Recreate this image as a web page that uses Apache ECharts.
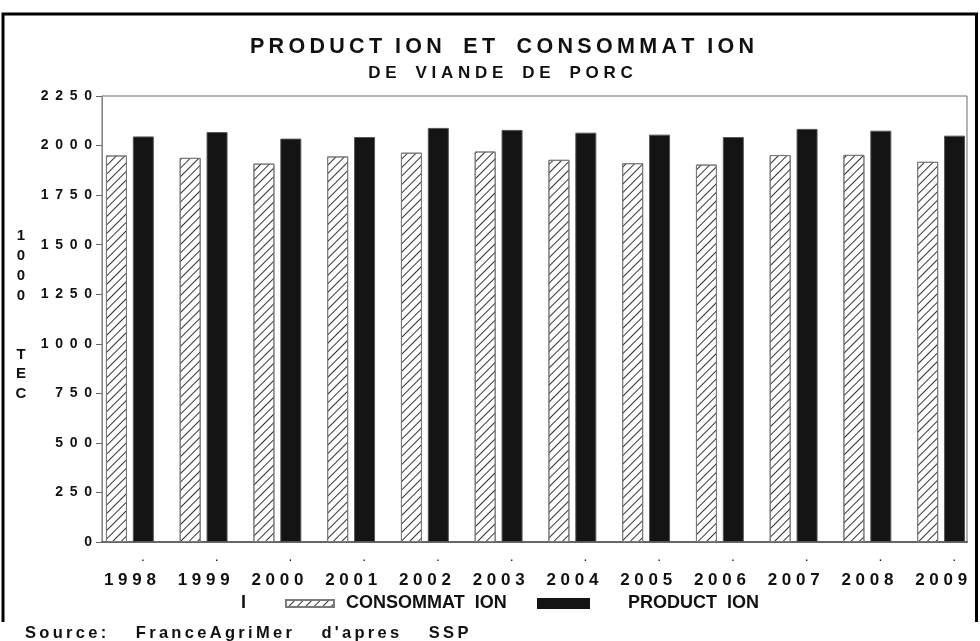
<!DOCTYPE html>
<html>
<head>
<meta charset="utf-8">
<script src="https://cdn.jsdelivr.net/npm/echarts@6/dist/echarts.min.js"></script>
<style>
html, body { margin: 0; padding: 0; background: #fff; }
#chart { width: 980px; height: 641px; }
</style>
</head>
<body>
<div id="chart"></div>
<script>
// valeurs en 1000 TEC
const years = ['1998', '1999', '2000', '2001', '2002', '2003', '2004', '2005', '2006', '2007', '2008', '2009'];
const consommation = [1950, 1938, 1909, 1945, 1964, 1970, 1928, 1911, 1904, 1952, 1953, 1918];
const production = [2046, 2068, 2035, 2043, 2089, 2079, 2065, 2055, 2043, 2084, 2075, 2050];
const yMin = 0, yMax = 2250, yStep = 250;
const yName = ['1', '0', '0', '0', '', '', 'T', 'E', 'C'];

const FONT = 'Liberation Sans, Arial, sans-serif';

// espacement des lettres comme sur l'original
function spread(text, gap, blank) {
    return text.split('').map(c => c === ' ' ? blank : c).join(gap);
}

const titleText = spread('PRODUCT ION  ET  CONSOMMAT ION', '\u2009', '\u2009');
const subText = spread('DE VIANDE DE PORC', ' ', '  ');
const sourceText = spread("Source: FranceAgriMer d'apres SSP", '\u2009', '     ');

const bold = (size, lh) => ({ fontFamily: FONT, fontSize: size, fontWeight: 'bold', color: '#111', lineHeight: lh });

let myChart = echarts.init(document.getElementById('chart'));

let option = {
    animation: false,
    backgroundColor: '#fff',
    title: [
        { text: titleText, left: 502, top: 35.5, padding: 0, textAlign: 'center', textVerticalAlign: 'top', textStyle: bold(21.5, 24) },
        { text: subText, left: 500.5, top: 63.5, padding: 0, textAlign: 'center', textVerticalAlign: 'top', textStyle: bold(17, 20) },
        { text: yName.join('\n'), left: 21, top: 226.5, padding: 0, textAlign: 'center', textVerticalAlign: 'top', textStyle: bold(15, 19.7) },
        { text: 'I', left: 241, top: 593, padding: 0, textAlign: 'left', textVerticalAlign: 'top', textStyle: bold(18, 20) },
        { text: sourceText, left: 25, top: 623.5, padding: 0, textAlign: 'left', textVerticalAlign: 'top', textStyle: bold(16.5, 20) }
    ],
    graphic: [
        {
            type: 'polyline',
            shape: { points: [[3, 622], [3, 14], [976.5, 14], [976.5, 622]] },
            style: { stroke: '#000', lineWidth: 3, fill: null }
        }
    ],
    legend: [
        {
            data: ['CONSOMMATION'], left: 285, top: 593.5, padding: 0,
            itemWidth: 48, itemHeight: 7, icon: 'rect', selectedMode: false,
            formatter: name => name.replace('TION', 'T  ION'),
            textStyle: Object.assign(bold(18, 20), { padding: [0, 0, 0, 7] })
        },
        {
            data: ['PRODUCTION'], left: 537, top: 593.5, padding: 0,
            itemWidth: 51, itemHeight: 9, icon: 'rect', selectedMode: false,
            itemStyle: { borderColor: '#141414' },
            formatter: name => name.replace('TION', 'T  ION'),
            textStyle: Object.assign(bold(18, 20), { padding: [0, 0, 0, 34] })
        }
    ],
    grid: [
        { left: 102, right: 13, top: 96, bottom: 99, show: true, borderColor: '#6a6a6a', borderWidth: 1, outerBoundsMode: 'none' },
        { left: 93, right: 2, top: 96, bottom: 99, outerBoundsMode: 'none' }
    ],
    xAxis: [
        {
            type: 'category', gridIndex: 0, data: years,
            axisLine: { lineStyle: { color: '#666', width: 2 } },
            axisTick: { show: false },
            axisLabel: { show: false }
        },
        {
            type: 'category', gridIndex: 1, data: years,
            axisLine: { show: false },
            axisTick: { show: false },
            axisLabel: {
                interval: 0,
                margin: 2,
                formatter: v => '{d|.}\n{y|' + spread(v, ' ', '') + '}',
                rich: {
                    d: { fontFamily: FONT, fontSize: 14, lineHeight: 26, color: '#111', padding: [0, 0, 0, 26] },
                    y: bold(17, 20)
                }
            }
        }
    ],
    yAxis: [
        {
            type: 'value', gridIndex: 0, min: yMin, max: yMax, interval: yStep,
            axisLine: { show: true, lineStyle: { color: '#888' } },
            axisTick: { show: true, length: 6, lineStyle: { color: '#666' } },
            splitLine: { show: false },
            axisLabel: {
                margin: 10,
                fontFamily: FONT, fontSize: 14, fontWeight: 'bold', color: '#111',
                formatter: v => spread(String(v), ' \u2009', '')
            }
        },
        { type: 'value', gridIndex: 1, min: yMin, max: yMax, interval: yStep, show: false }
    ],
    series: [
        {
            name: 'CONSOMMATION',
            type: 'bar',
            xAxisIndex: 1,
            yAxisIndex: 1,
            data: consommation,
            barWidth: 21,
            barGap: '28%',
            itemStyle: {
                color: '#fff',
                borderColor: '#7a7a7a',
                borderWidth: 1,
                decal: {
                    symbol: 'rect',
                    symbolSize: 1,
                    color: '#333',
                    dashArrayX: [1, 0],
                    dashArrayY: [1, 5],
                    rotation: -Math.PI / 4
                }
            }
        },
        {
            name: 'PRODUCTION',
            type: 'bar',
            xAxisIndex: 1,
            yAxisIndex: 1,
            data: production,
            barWidth: 21,
            itemStyle: { color: '#141414', borderColor: '#555', borderWidth: 1 }
        }
    ]
};
myChart.setOption(option, true);
</script>
</body>
</html>
